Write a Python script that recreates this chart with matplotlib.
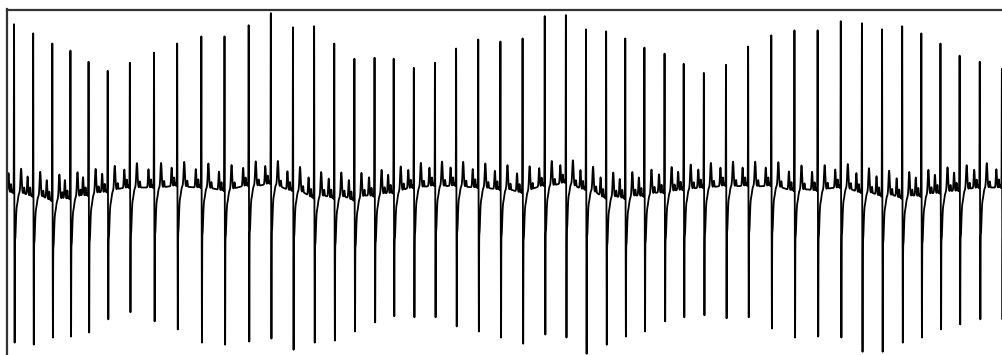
import numpy as np
import matplotlib.pyplot as plt

# beat times (s), R peak and S trough amplitudes (mV), local baseline (mV)
beat_t = [0.28, 1.04, 1.80, 2.52, 3.24, 4.00, 4.88, 5.84, 6.76, 7.72, 8.64, 9.60,
          10.48, 11.36, 12.20, 13.00, 13.80, 14.60, 15.36, 16.16, 17.00, 17.84, 18.72, 19.60,
          20.48, 21.36, 22.20, 23.00, 23.80, 24.56, 25.32, 26.12, 26.88, 27.68, 28.56, 29.44,
          30.36, 31.28, 32.20, 33.12, 33.96, 34.76, 35.56, 36.32, 37.08, 37.84, 38.64, 39.52]
r_peak = [1.61, 1.52, 1.42, 1.35, 1.24, 1.15, 1.23, 1.33, 1.42, 1.49, 1.49, 1.60,
          1.72, 1.58, 1.59, 1.42, 1.27, 1.28, 1.27, 1.18, 1.23, 1.37, 1.46, 1.44,
          1.47, 1.69, 1.70, 1.56, 1.54, 1.47, 1.38, 1.32, 1.22, 1.13, 1.21, 1.39,
          1.50, 1.55, 1.55, 1.64, 1.62, 1.56, 1.59, 1.52, 1.42, 1.30, 1.24, 1.17]
s_trough = [-1.53, -1.55, -1.48, -1.47, -1.43, -1.30, -1.23, -1.32, -1.40, -1.53, -1.55, -1.52,
            -1.49, -1.60, -1.53, -1.51, -1.42, -1.33, -1.27, -1.28, -1.28, -1.37, -1.42, -1.48,
            -1.54, -1.45, -1.48, -1.64, -1.55, -1.47, -1.42, -1.32, -1.28, -1.26, -1.29, -1.28,
            -1.39, -1.48, -1.47, -1.48, -1.62, -1.62, -1.53, -1.48, -1.40, -1.35, -1.30, -1.30]
baseline = [0.00, -0.03, -0.07, -0.05, -0.02, 0.01, 0.05, 0.05, 0.07, 0.05, 0.02, 0.07,
            0.09, 0.02, -0.05, -0.05, -0.07, -0.03, 0.00, 0.05, 0.07, 0.07, 0.05, 0.03,
            0.00, 0.07, 0.10, 0.03, -0.05, -0.05, -0.03, 0.00, 0.03, 0.05, 0.07, 0.07,
            0.07, 0.02, 0.02, 0.05, 0.00, -0.03, -0.05, -0.03, 0.00, 0.02, 0.05, 0.05]

fs = 500
t = np.arange(0, 40.12, 1 / fs)
S_LAG = 0.024


def bump(center, amp, width, x=t):
    return amp * np.exp(-0.5 * ((x - center) / width) ** 2)


# slow waves of every beat first
ecg = np.zeros_like(t)
for i, t0 in enumerate(beat_t):
    b = baseline[i] - 0.05
    ecg += bump(t0, b, 0.30)               # baseline wander
    ecg += bump(t0 - 0.22, 0.18, 0.02)     # P wave
    ecg += bump(t0 - 0.12, 0.08, 0.012)    # notch before QRS
    ecg += bump(t0 - 0.03, -0.10, 0.012)   # Q dip
    ecg += bump(t0, 0.30, 0.028)           # broad base of R
    ecg += bump(t0 + 0.035, -0.55, 0.032)  # broad base of S
    ecg += bump(t0 + 0.12, -0.10, 0.035)   # ST depression
    ecg += bump(t0 + 0.28, 0.24, 0.025)    # T wave
    ecg += bump(t0 + 0.40, 0.06, 0.015)    # U ripple

# narrow R/S spikes topped up so the tips land on the listed amplitudes
spikes = np.zeros_like(t)
for i, t0 in enumerate(beat_t):
    r_here = np.interp(t0, t, ecg)
    s_here = np.interp(t0 + S_LAG, t, ecg)
    spikes += bump(t0, r_peak[i] - r_here, 0.006)
    spikes += bump(t0 + S_LAG, s_trough[i] - s_here, 0.006)
ecg = ecg + spikes

plt.rcParams['path.simplify'] = False
fig = plt.figure(figsize=(10.03, 3.55), dpi=100)
# axes runs off the right and bottom edges, only top/left frame shows
ax = fig.add_axes([7 / 1003, -10 / 355, 1010 / 1003, (355 - 9.5 + 10) / 355])
ax.plot(t, ecg, color='black', linewidth=1.3)

ax.set_xlim(0, 40.12)
ax.set_ylim(-1.75, 1.755)
ax.set_xticks([])
ax.set_yticks([])
for side in ['top', 'left', 'right', 'bottom']:
    ax.spines[side].set_color('#333333')
    ax.spines[side].set_linewidth(1.6)

fig.savefig('out.png', dpi=100, facecolor='white')
